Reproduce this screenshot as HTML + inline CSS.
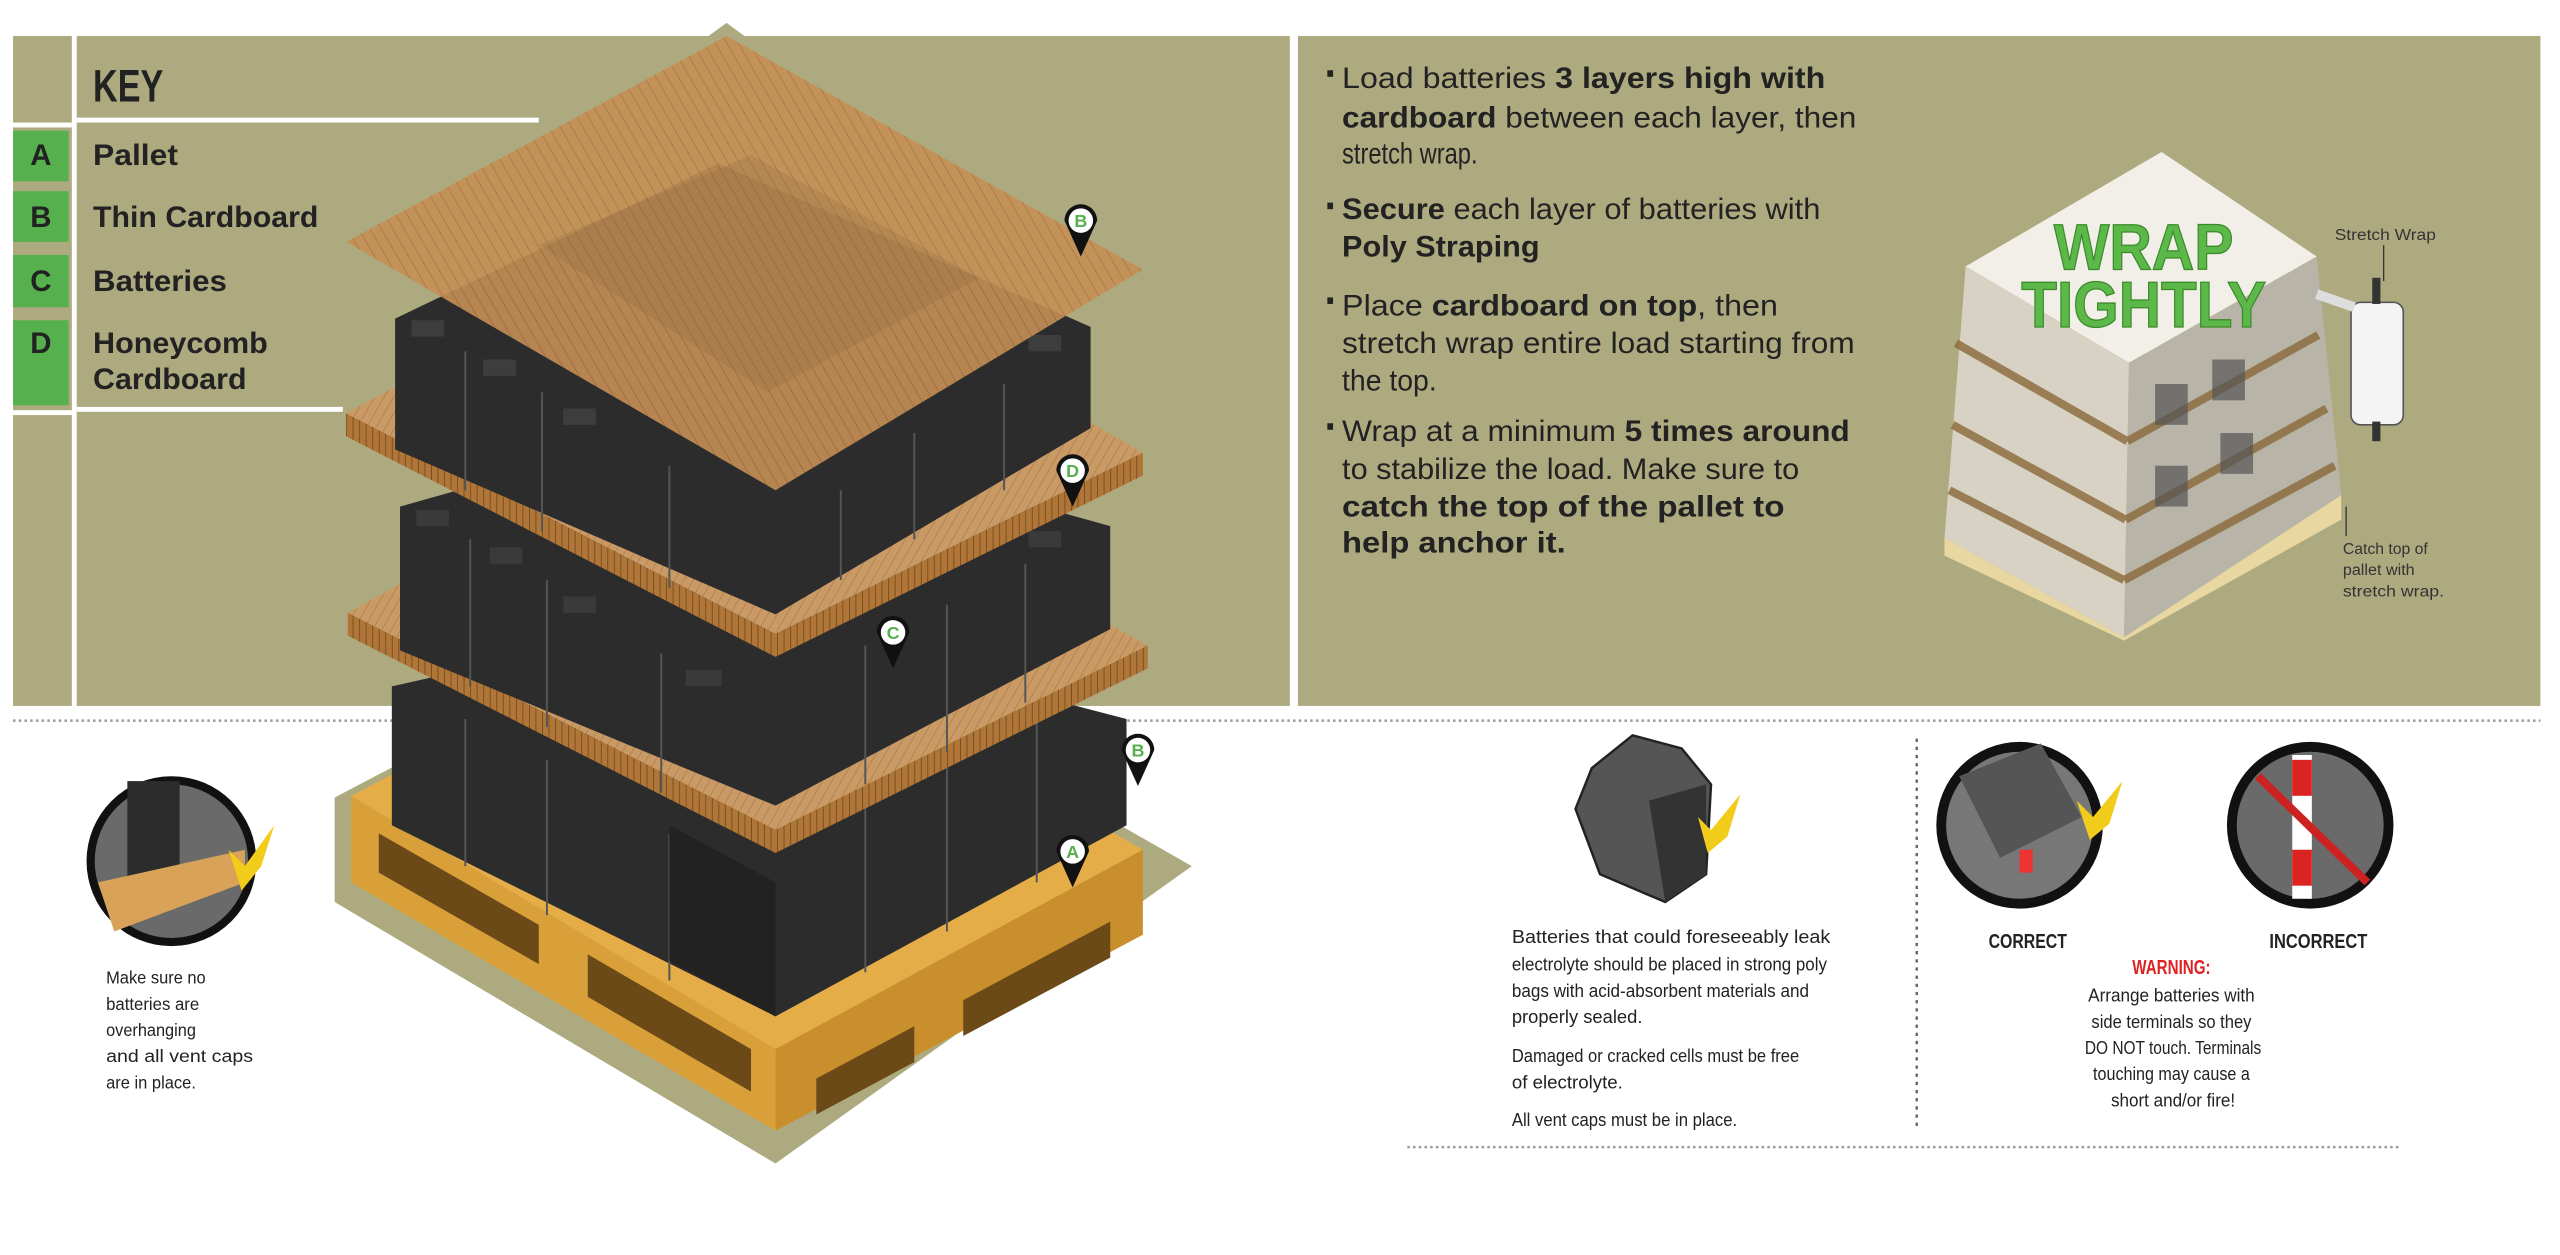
<!DOCTYPE html>
<html><head><meta charset="utf-8"><style>
html,body{margin:0;padding:0;background:#fff;}
svg{display:block}
text{font-family:"Liberation Sans",Arial,sans-serif;}
.n{font-family:"Liberation Sans Narrow","Liberation Sans",sans-serif;}
</style></head><body>
<svg width="2560" height="1255" viewBox="0 0 1568 768" preserveAspectRatio="none" xmlns="http://www.w3.org/2000/svg">
<defs>
<pattern id="st" width="6" height="6" patternUnits="userSpaceOnUse" patternTransform="rotate(-30)">
<rect width="6" height="6" fill="#c58f55"/><line x1="0" y1="0" x2="0" y2="6" stroke="#a8733f" stroke-width="1"/></pattern>
<pattern id="st2" width="5" height="5" patternUnits="userSpaceOnUse" patternTransform="rotate(30)">
<rect width="5" height="5" fill="#c99a66"/><line x1="0" y1="0" x2="0" y2="5" stroke="#b0804c" stroke-width="1"/></pattern>
<pattern id="hc" width="4" height="10" patternUnits="userSpaceOnUse">
<rect width="4" height="10" fill="#b07638"/><line x1="0" y1="0" x2="0" y2="10" stroke="#6e4720" stroke-width="1"/></pattern>
</defs>
<rect x="8" y="22" width="782" height="410" fill="#aeaa80"/>
<rect x="795" y="22" width="761" height="410" fill="#aeaa80"/>
<rect x="44" y="22" width="3" height="410" fill="#fff"/>
<rect x="47" y="72" width="283" height="3" fill="#fff"/>
<rect x="8" y="75" width="36" height="3" fill="#fff"/>
<rect x="8" y="80" width="34" height="31" fill="#56b04e"/>
<rect x="8" y="117" width="34" height="31" fill="#56b04e"/>
<rect x="8" y="156" width="34" height="32" fill="#56b04e"/>
<rect x="8" y="196" width="34" height="52" fill="#56b04e"/>
<rect x="8" y="251" width="36" height="3" fill="#fff"/>
<rect x="47" y="249" width="163" height="3" fill="#fff"/>
<text x="57" y="62" class="n" font-size="28" font-weight="bold" fill="#222" textLength="43" lengthAdjust="spacingAndGlyphs">KEY</text>
<g font-size="18" font-weight="bold" fill="#222" class="n">
<text x="25" y="101" text-anchor="middle">A</text>
<text x="25" y="139" text-anchor="middle">B</text>
<text x="25" y="178" text-anchor="middle">C</text>
<text x="25" y="216" text-anchor="middle">D</text>
<text x="57" y="101" textLength="52" lengthAdjust="spacingAndGlyphs">Pallet</text>
<text x="57" y="139" textLength="138" lengthAdjust="spacingAndGlyphs">Thin Cardboard</text>
<text x="57" y="178" textLength="82" lengthAdjust="spacingAndGlyphs">Batteries</text>
<text x="57" y="216" textLength="107" lengthAdjust="spacingAndGlyphs">Honeycomb</text>
<text x="57" y="238" textLength="94" lengthAdjust="spacingAndGlyphs">Cardboard</text>
</g>
<line x1="8" y1="441" x2="1556" y2="441" stroke="#999" stroke-width="1.5" stroke-dasharray="1.5,2"/>
<line x1="862" y1="702" x2="1470" y2="702" stroke="#999" stroke-width="1.5" stroke-dasharray="1.5,2"/>
<line x1="1174" y1="452" x2="1174" y2="692" stroke="#666" stroke-width="1.5" stroke-dasharray="2,3"/>

<polygon points="205,488 440,365 730,530 475,712 205,552" fill="#aeaa80"/>
<polygon points="215,487 440,370 700,520 475,642" fill="#e4ad48"/>
<polygon points="215,487 475,642 475,692 215,540" fill="#d9a03a"/>
<polygon points="475,642 700,520 700,572 475,692" fill="#c98f2c"/>
<polygon points="232,510 330,566 330,590 232,534" fill="#6b4a18"/>
<polygon points="360,584 460,642 460,668 360,610" fill="#6b4a18"/>
<polygon points="500,660 560,628 560,650 500,682" fill="#6b4a18"/>
<polygon points="590,612 680,564 680,586 590,634" fill="#6b4a18"/>
<polygon points="240,420 440,375 690,440 690,505 475,622 240,505" fill="#2c2c2c"/>
<g stroke="#555" stroke-width="1.2" fill="none">
<path d="M285,440V530 M335,465V560 M410,510V600 M530,490V595 M580,465V570 M635,440V540"/>
</g>
<polygon points="410,505 475,540 475,622 410,588" fill="#222"/>
<polygon points="213,375 440,250 703,395 475,508" fill="url(#st2)"/>
<polygon points="213,375 475,508 475,522 213,389" fill="url(#hc)"/>
<polygon points="475,508 703,395 703,409 475,522" fill="url(#hc)"/>
<polygon points="245,310 440,255 680,322 680,385 475,493 245,398" fill="#2c2c2c"/>
<g stroke="#555" stroke-width="1.2" fill="none">
<path d="M288,330V420 M335,355V445 M405,400V485 M530,395V480 M580,370V460 M628,345V430"/>
</g>
<g fill="#3a3a3a"><rect x="255" y="312" width="20" height="10"/><rect x="300" y="335" width="20" height="10"/><rect x="345" y="365" width="20" height="10"/><rect x="420" y="410" width="22" height="10"/><rect x="630" y="325" width="20" height="10"/></g>
<polygon points="212,253 440,128 700,277 475,388" fill="url(#st2)"/>
<polygon points="212,253 475,388 475,402 212,267" fill="url(#hc)"/>
<polygon points="475,388 700,277 700,291 475,402" fill="url(#hc)"/>
<polygon points="242,195 440,100 668,200 668,262 475,376 242,275" fill="#2c2c2c"/>
<g stroke="#555" stroke-width="1.2" fill="none">
<path d="M285,215V300 M332,240V325 M410,285V360 M515,300V355 M560,265V330 M615,235V300"/>
</g>
<g fill="#3d3d3d"><rect x="252" y="196" width="20" height="10"/><rect x="296" y="220" width="20" height="10"/><rect x="345" y="250" width="20" height="10"/><rect x="630" y="205" width="20" height="10"/></g>
<polygon points="445,22 700,165 475,300 212,148" fill="url(#st)" opacity="0.9"/>
<polygon points="445,14 456,22 434,22" fill="#aeaa80"/>
<polygon points="330,150 460,95 600,170 470,240" fill="#8a6a45" opacity="0.25"/>
<g font-size="11" font-weight="bold" fill="#56b04e" text-anchor="middle">
<g transform="translate(662,135)"><path d="M-10,0 A10,10 0 1 1 10,0 L0,22 Z" fill="#111"/><circle r="7.5" fill="#fff"/><text y="4">B</text></g>
<g transform="translate(657,288)"><path d="M-10,0 A10,10 0 1 1 10,0 L0,22 Z" fill="#111"/><circle r="7.5" fill="#fff"/><text y="4">D</text></g>
<g transform="translate(547,387)"><path d="M-10,0 A10,10 0 1 1 10,0 L0,22 Z" fill="#111"/><circle r="7.5" fill="#fff"/><text y="4">C</text></g>
<g transform="translate(697,459)"><path d="M-10,0 A10,10 0 1 1 10,0 L0,22 Z" fill="#111"/><circle r="7.5" fill="#fff"/><text y="4">B</text></g>
<g transform="translate(657,521)"><path d="M-10,0 A10,10 0 1 1 10,0 L0,22 Z" fill="#111"/><circle r="7.5" fill="#fff"/><text y="4">A</text></g>
</g>

<g font-size="18" fill="#222">
<g><rect x="813" y="43" width="3.5" height="4"/><rect x="813" y="124" width="3.5" height="4"/><rect x="813" y="182" width="3.5" height="4"/><rect x="813" y="259" width="3.5" height="4"/></g>
<text x="822" y="54" textLength="296" lengthAdjust="spacingAndGlyphs">Load batteries <tspan font-weight="bold">3 layers high with</tspan></text>
<text x="822" y="78" textLength="315" lengthAdjust="spacingAndGlyphs"><tspan font-weight="bold">cardboard</tspan> between each layer, then</text>
<text x="822" y="100" textLength="83" lengthAdjust="spacingAndGlyphs">stretch wrap.</text>
<text x="822" y="134" textLength="293" lengthAdjust="spacingAndGlyphs"><tspan font-weight="bold">Secure</tspan> each layer of batteries with</text>
<text x="822" y="157" font-weight="bold" textLength="121" lengthAdjust="spacingAndGlyphs">Poly Straping</text>
<text x="822" y="193" textLength="267" lengthAdjust="spacingAndGlyphs">Place <tspan font-weight="bold">cardboard on top</tspan>, then</text>
<text x="822" y="216" textLength="314" lengthAdjust="spacingAndGlyphs">stretch wrap entire load starting from</text>
<text x="822" y="239" textLength="58" lengthAdjust="spacingAndGlyphs">the top.</text>
<text x="822" y="270" textLength="311" lengthAdjust="spacingAndGlyphs">Wrap at a minimum <tspan font-weight="bold">5 times around</tspan></text>
<text x="822" y="293" textLength="280" lengthAdjust="spacingAndGlyphs">to stabilize the load. Make sure to</text>
<text x="822" y="316" font-weight="bold" textLength="271" lengthAdjust="spacingAndGlyphs">catch the top of the pallet to</text>
<text x="822" y="338" font-weight="bold" textLength="137" lengthAdjust="spacingAndGlyphs">help anchor it.</text>
</g>
<polygon points="1324,93 1419,157 1304,222 1204,163" fill="#f2eee8"/>
<polygon points="1204,163 1304,222 1301,390 1191,329" fill="#d8d2c4"/>
<polygon points="1304,222 1419,157 1434,303 1301,390" fill="#b8b4a8"/>
<g stroke="#8a6a3a" stroke-width="5" opacity="0.8">
<line x1="1198" y1="210" x2="1303" y2="270"/><line x1="1303" y1="270" x2="1420" y2="205"/>
<line x1="1196" y1="260" x2="1302" y2="318"/><line x1="1302" y1="318" x2="1425" y2="250"/>
<line x1="1194" y1="300" x2="1301" y2="355"/><line x1="1301" y1="355" x2="1430" y2="285"/>
</g>
<g fill="#555" opacity="0.7"><rect x="1320" y="235" width="20" height="25"/><rect x="1355" y="220" width="20" height="25"/><rect x="1320" y="285" width="20" height="25"/><rect x="1360" y="265" width="20" height="25"/></g>
<polygon points="1191,329 1301,390 1434,303 1434,318 1301,392 1191,340" fill="#e8d7a0"/>
<rect x="1440" y="185" width="32" height="75" rx="6" fill="#f4f4f4" stroke="#555" stroke-width="1"/>
<rect x="1453" y="170" width="5" height="16" fill="#333"/><rect x="1453" y="258" width="5" height="12" fill="#333"/>
<line x1="1419" y1="180" x2="1442" y2="188" stroke="#ddd" stroke-width="6"/>
<text x="1258" y="165" font-size="40" font-weight="bold" class="n" fill="#5cb848" stroke="#3a8a2a" stroke-width="0.8" textLength="110" lengthAdjust="spacingAndGlyphs">WRAP</text>
<text x="1238" y="200" font-size="40" font-weight="bold" class="n" fill="#5cb848" stroke="#3a8a2a" stroke-width="0.8" textLength="150" lengthAdjust="spacingAndGlyphs">TIGHTLY</text>
<g font-size="9.5" fill="#333" class="n">
<text x="1430" y="147" textLength="62" lengthAdjust="spacingAndGlyphs">Stretch Wrap</text>
<line x1="1460" y1="150" x2="1460" y2="172" stroke="#333" stroke-width="0.8"/>
<text x="1435" y="339" textLength="52" lengthAdjust="spacingAndGlyphs">Catch top of</text><text x="1435" y="352" textLength="44" lengthAdjust="spacingAndGlyphs">pallet with</text><text x="1435" y="365" textLength="62" lengthAdjust="spacingAndGlyphs">stretch wrap.</text>
<line x1="1437" y1="310" x2="1437" y2="328" stroke="#333" stroke-width="0.8"/>
</g>

<circle cx="105" cy="527" r="52" fill="#111"/>
<circle cx="105" cy="527" r="47" fill="#6a6a6a"/>
<rect x="78" y="478" width="32" height="60" fill="#2c2c2c"/>
<polygon points="60,540 150,520 150,540 70,570" fill="#d8a358"/>
<path d="M140,520 L150,530 L168,505 L160,530 L148,545 Z" fill="#f2cc1a"/>
<g font-size="11" fill="#222" class="n">
<text x="65" y="602" textLength="61" lengthAdjust="spacingAndGlyphs">Make sure no</text>
<text x="65" y="618" textLength="57" lengthAdjust="spacingAndGlyphs">batteries are</text>
<text x="65" y="634" textLength="55" lengthAdjust="spacingAndGlyphs">overhanging</text>
<text x="65" y="650" textLength="90" lengthAdjust="spacingAndGlyphs">and all vent caps</text>
<text x="65" y="666" textLength="55" lengthAdjust="spacingAndGlyphs">are in place.</text>
</g>
<polygon points="975,470 1000,450 1030,458 1048,480 1045,535 1020,552 980,535 965,495" fill="#555" stroke="#222" stroke-width="1.5"/>
<polygon points="1010,490 1045,480 1045,535 1020,552" fill="#333"/>
<path d="M1040,500 L1048,508 L1066,486 L1058,512 L1046,522 Z" fill="#f2cc1a"/>
<g font-size="11.5" fill="#222" class="n">
<text x="926" y="577" textLength="195" lengthAdjust="spacingAndGlyphs">Batteries that could foreseeably leak</text>
<text x="926" y="594" textLength="193" lengthAdjust="spacingAndGlyphs">electrolyte should be placed in strong poly</text>
<text x="926" y="610" textLength="182" lengthAdjust="spacingAndGlyphs">bags with acid-absorbent materials and</text>
<text x="926" y="626" textLength="80" lengthAdjust="spacingAndGlyphs">properly sealed.</text>
<text x="926" y="650" textLength="176" lengthAdjust="spacingAndGlyphs">Damaged or cracked cells must be free</text>
<text x="926" y="666" textLength="68" lengthAdjust="spacingAndGlyphs">of electrolyte.</text>
<text x="926" y="689" textLength="138" lengthAdjust="spacingAndGlyphs">All vent caps must be in place.</text>
</g>
<circle cx="1237" cy="505" r="51" fill="#111"/><circle cx="1237" cy="505" r="45" fill="#777"/>
<polygon points="1200,475 1250,455 1275,500 1225,525" fill="#555"/>
<rect x="1237" y="520" width="8" height="14" fill="#e33"/>
<path d="M1272,490 L1282,500 L1300,478 L1292,504 L1280,514 Z" fill="#f2cc1a"/>
<circle cx="1415" cy="505" r="51" fill="#111"/><circle cx="1415" cy="505" r="45" fill="#6a6a6a"/>
<rect x="1404" y="462" width="12" height="88" fill="#fff"/>
<rect x="1404" y="465" width="12" height="22" fill="#d22"/><rect x="1404" y="520" width="12" height="22" fill="#d22"/>
<line x1="1383" y1="475" x2="1450" y2="540" stroke="#c22" stroke-width="5"/>
<g class="n" font-weight="bold" fill="#222" font-size="12.5">
<text x="1218" y="580" textLength="48" lengthAdjust="spacingAndGlyphs">CORRECT</text>
<text x="1390" y="580" textLength="60" lengthAdjust="spacingAndGlyphs">INCORRECT</text>
<text x="1306" y="596" fill="#d22" textLength="48" lengthAdjust="spacingAndGlyphs">WARNING:</text>
</g>
<g class="n" fill="#222" font-size="11.5">
<text x="1279" y="613" textLength="102" lengthAdjust="spacingAndGlyphs">Arrange batteries with</text>
<text x="1281" y="629" textLength="98" lengthAdjust="spacingAndGlyphs">side terminals so they</text>
<text x="1277" y="645" textLength="108" lengthAdjust="spacingAndGlyphs">DO NOT touch. Terminals</text>
<text x="1282" y="661" textLength="96" lengthAdjust="spacingAndGlyphs">touching may cause a</text>
<text x="1293" y="677" textLength="76" lengthAdjust="spacingAndGlyphs">short and/or fire!</text>
</g>
</svg>
</body></html>
